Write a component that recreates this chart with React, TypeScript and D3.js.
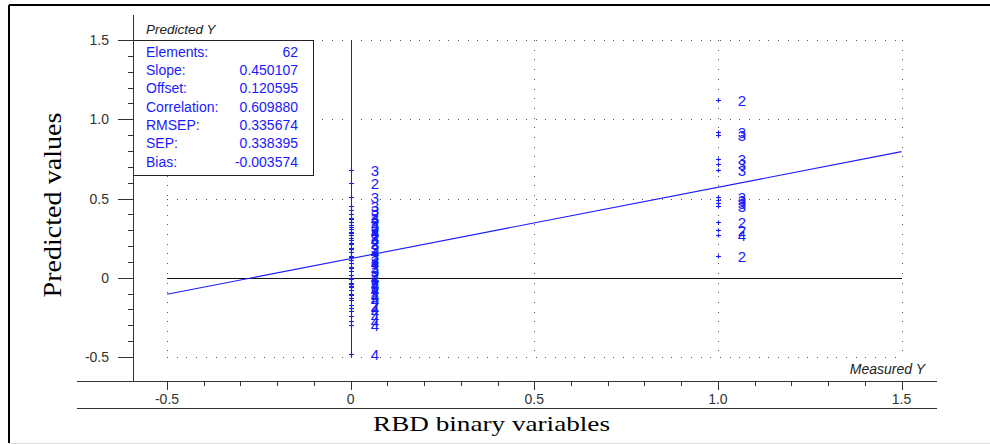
import React from "react";
import * as d3 from "d3";

// regression summary shown in the box
const statLabels = ["Elements:", "Slope:", "Offset:", "Correlation:", "RMSEP:", "SEP:", "Bias:"];
const statValues = ["62", "0.450107", "0.120595", "0.609880", "0.335674", "0.338395", "-0.003574"];
const slope = 0.450107;
const offset = 0.120595;

// samples measured as 0
const predictedAtZero = [
  0.68, 0.6, 0.51, 0.45, 0.43, 0.4, 0.38, 0.37, 0.35, 0.33, 0.32, 0.31, 0.29, 0.28, 0.27, 0.25,
  0.24, 0.22, 0.21, 0.19, 0.18, 0.16, 0.14, 0.13, 0.11, 0.09, 0.07, 0.06, 0.04, 0.02, 0.0, -0.01,
  -0.03, -0.04, -0.05, -0.06, -0.08, -0.1, -0.11, -0.13, -0.14, -0.17, -0.19, -0.21, -0.24, -0.27,
  -0.3, -0.48,
];
const labelsAtZero = [
  "3", "2", "3", "3", "3", "2", "3", "4", "2", "3", "3", "2", "4", "3", "2", "3",
  "4", "2", "3", "3", "2", "4", "3", "2", "3", "4", "2", "3", "3", "2", "4", "3",
  "2", "4", "3", "2", "4", "2", "4", "3", "4", "2", "4", "4", "4", "4",
  "4", "4",
];

// samples measured as 1
const predictedAtOne = [1.12, 0.92, 0.9, 0.75, 0.72, 0.68, 0.51, 0.49, 0.47, 0.45, 0.35, 0.3, 0.27, 0.14];
const labelsAtOne = ["2", "3", "3", "3", "3", "3", "3", "3", "3", "3", "2", "2", "4", "2"];

const xTicks = [-0.5, 0, 0.5, 1.0, 1.5];
const xTickLabels = ["-0.5", "0", "0.5", "1.0", "1.5"];
const yTicks = [-0.5, 0, 0.5, 1.0, 1.5];
const yTickLabels = ["-0.5", "0", "0.5", "1.0", "1.5"];

const blue = "#1a1aff";
const sans = "'Liberation Sans', Arial, sans-serif";
const serif = "'Liberation Serif', 'Times New Roman', serif";

export default function App() {
  const width = 990;
  const height = 444;
  const axisX = 133.5;
  const axisY = 381.5;

  const x = d3.scaleLinear().domain([-0.5, 1.5]).range([167, 901.5]);
  const y = d3.scaleLinear().domain([-0.5, 1.5]).range([357, 40]);

  const minor = d3.range(-5, 16).map((i) => i / 10);
  const isMajor = (v: number) => Math.abs(v * 2 - Math.round(v * 2)) < 1e-6;

  const points = [
    ...predictedAtZero.map((v, i) => ({ mx: 0, py: v, label: labelsAtZero[i] })),
    ...predictedAtOne.map((v, i) => ({ mx: 1, py: v, label: labelsAtOne[i] })),
  ];

  const fit = d3
    .line<number>()
    .x((d) => x(d))
    .y((d) => y(offset + slope * d));

  const boxTop = y(1.5);
  const rowH = 18.3;

  return (
    <svg
      width={width}
      height={height}
      style={{ position: "absolute", left: 0, top: 0, background: "#fff" }}
    >
      {/* outer frame */}
      <line x1={9} x2={width} y1={5} y2={5} stroke="#000" strokeWidth={2} />
      <line x1={9} x2={9} y1={5} y2={443} stroke="#000" strokeWidth={2} />
      <line x1={9} x2={width} y1={443.5} y2={443.5} stroke="#ddd" strokeWidth={1} />

      {/* dotted grid */}
      <g shapeRendering="crispEdges">
        {yTicks
          .filter((t) => t !== 0)
          .map((t) => (
            <line
              key={"gy" + t}
              x1={x(-0.5)}
              x2={x(1.5)}
              y1={Math.round(y(t)) + 0.5}
              y2={Math.round(y(t)) + 0.5}
              stroke="#555"
              strokeDasharray="1 8.7"
            />
          ))}
        {xTicks
          .filter((t) => t !== 0)
          .map((t) => (
            <line
              key={"gx" + t}
              x1={Math.round(x(t)) + 0.5}
              x2={Math.round(x(t)) + 0.5}
              y1={y(1.5)}
              y2={y(-0.5)}
              stroke="#555"
              strokeDasharray="1 8.7"
            />
          ))}
        {/* zero lines */}
        <line
          x1={x(-0.5)}
          x2={x(1.5)}
          y1={Math.round(y(0)) + 0.5}
          y2={Math.round(y(0)) + 0.5}
          stroke="#111"
        />
        <line
          x1={Math.round(x(0)) + 0.5}
          x2={Math.round(x(0)) + 0.5}
          y1={y(1.5)}
          y2={y(-0.5)}
          stroke="#333"
        />
      </g>

      {/* regression line */}
      <path d={fit([-0.5, 1.5]) || ""} fill="none" stroke={blue} strokeWidth={1.1} />

      {/* points with labels */}
      <g>
        {points.map((p, i) => {
          const cx = Math.round(x(p.mx)) + 0.5;
          const cy = Math.round(y(p.py)) + 0.5;
          return (
            <g key={i}>
              <path
                d={`M${cx - 2.5},${cy}H${cx + 2.5}M${cx},${cy - 2}V${cy + 2}`}
                stroke={blue}
                strokeWidth={1.2}
              />
              <text
                x={cx + 23.5}
                y={cy}
                fill={blue}
                fontFamily={sans}
                fontSize={15}
                textAnchor="middle"
                dominantBaseline="central"
              >
                {p.label}
              </text>
            </g>
          );
        })}
      </g>

      {/* stats box */}
      <rect
        x={axisX}
        y={Math.round(boxTop) + 0.5}
        width={180}
        height={135}
        fill="#fff"
        stroke="#222"
        strokeWidth={1}
        shapeRendering="crispEdges"
      />
      {statLabels.map((s, i) => (
        <g key={s} fontFamily={sans} fontSize={14} fill={blue}>
          <text x={146} y={boxTop + 16.7 + i * rowH}>
            {s}
          </text>
          <text x={298} y={boxTop + 16.7 + i * rowH} textAnchor="end">
            {statValues[i]}
          </text>
        </g>
      ))}

      <text x={146} y={34} fontFamily={sans} fontSize={13.5} fontStyle="italic" fill="#222">
        Predicted Y
      </text>
      <text
        x={925}
        y={374}
        fontFamily={sans}
        fontSize={14}
        fontStyle="italic"
        fill="#222"
        textAnchor="end"
      >
        Measured Y
      </text>

      {/* y axis */}
      <g shapeRendering="crispEdges" stroke="#333">
        <line x1={axisX} x2={axisX} y1={15} y2={axisY} />
        {minor.map((t) => (
          <line
            key={"ym" + t}
            x1={axisX - (isMajor(t) ? 16 : 6)}
            x2={axisX}
            y1={Math.round(y(t)) + 0.5}
            y2={Math.round(y(t)) + 0.5}
          />
        ))}
      </g>
      {yTicks.map((t, i) => (
        <text
          key={"yl" + t}
          x={109}
          y={y(t)}
          fontFamily={sans}
          fontSize={14}
          fill="#333"
          textAnchor="end"
          dominantBaseline="central"
        >
          {yTickLabels[i]}
        </text>
      ))}

      {/* x axis */}
      <g shapeRendering="crispEdges" stroke="#333">
        <line x1={77} x2={937} y1={axisY} y2={axisY} />
        <line x1={77} x2={937} y1={408.5} y2={408.5} />
        {minor.map((t) => (
          <line
            key={"xm" + t}
            x1={Math.round(x(t)) + 0.5}
            x2={Math.round(x(t)) + 0.5}
            y1={axisY}
            y2={axisY + (isMajor(t) ? 8 : 4)}
          />
        ))}
      </g>
      {xTicks.map((t, i) => (
        <text
          key={"xl" + t}
          x={x(t)}
          y={399}
          fontFamily={sans}
          fontSize={14}
          fill="#333"
          textAnchor="middle"
          dominantBaseline="central"
        >
          {xTickLabels[i]}
        </text>
      ))}

      {/* axis titles */}
      <text
        x={491.5}
        y={431}
        fontFamily={serif}
        fontSize={21}
        textAnchor="middle"
        textLength={237}
        lengthAdjust="spacingAndGlyphs"
        fill="#000"
      >
        RBD binary variables
      </text>
      <text
        transform={`translate(61,${205}) rotate(-90)`}
        fontFamily={serif}
        fontSize={25}
        textAnchor="middle"
        textLength={185}
        lengthAdjust="spacingAndGlyphs"
        fill="#000"
      >
        Predicted values
      </text>
    </svg>
  );
}
